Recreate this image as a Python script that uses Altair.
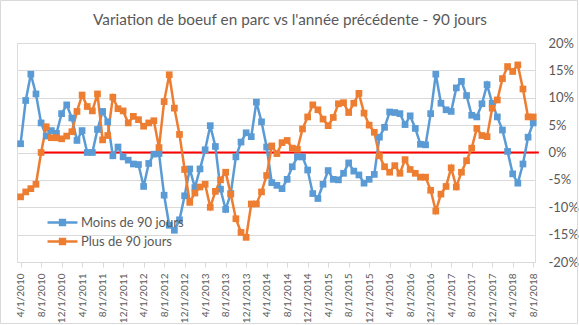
import altair as alt
import pandas as pd

title_text = "Variation de boeuf en parc vs l'année précédente - 90 jours"
series_names = ["Moins de 90 jours", "Plus de 90 jours"]
series_colors = ["#5B9BD5", "#ED7D31"]

# monthly values, 4/1/2010 .. 8/1/2018 (percent)
moins = [1.6, 9.5, 14.3, 10.7, 5.4, 3.0, 4.0, 3.5, 7.1, 8.7, 6.3, 2.2, 4.0, 0.0, 0.0, 4.2,
         7.5, 5.6, -0.6, 1.0, -0.8, -1.4, -2.1, -2.2, -6.2, -2.0, -0.3, -0.2, -7.8, -13.3,
         -14.2, -12.3, -7.9, -3.0, -6.4, -3.0, 0.5, 4.9, 1.1, -6.7, -10.4, -7.5, -0.8, 1.9,
         3.6, 2.9, 9.2, 5.6, 1.0, -5.5, -6.0, -6.6, -4.9, -2.6, -0.8, -0.8, -3.2, -7.5, -8.4,
         -5.8, -3.3, -4.9, -5.0, -3.8, -1.9, -3.4, -4.1, -5.6, -4.9, -4.0, 2.8, 4.6, 7.4, 7.3,
         7.1, 5.1, 6.7, 4.4, 1.5, 1.4, 7.1, 14.3, 9.0, 7.8, 7.5, 11.8, 13.0, 10.4, 6.8, 6.5,
         8.9, 12.4, 9.0, 6.5, 4.1, 0.2, -3.9, -5.6, -2.1, 2.8, 5.4]
plus = [-8.1, -7.2, -6.6, -5.8, 0.0, 4.7, 2.7, 2.7, 2.5, 3.0, 3.8, 7.5, 10.5, 8.4, 7.6, 10.7,
        2.3, 3.1, 10.1, 8.0, 7.6, 5.4, 6.6, 6.0, 4.8, 5.4, 5.8, 0.9, 9.3, 14.2, 8.1, 3.3,
        -3.1, -9.1, -7.4, -6.3, -5.8, -10.0, -7.1, -5.0, -3.6, -7.6, -12.1, -14.6, -15.5,
        -9.4, -9.4, -7.2, -4.2, 1.2, -0.2, 1.8, 2.2, 0.8, 0.6, 4.3, 6.5, 8.7, 7.8, 6.1, 4.9,
        6.4, 8.9, 9.1, 7.3, 9.0, 10.8, 7.2, 5.0, 3.7, -0.6, -2.6, -3.6, -2.4, -3.8, -1.3,
        -3.1, -3.8, -4.5, -4.5, -6.9, -10.7, -7.6, -6.2, -2.8, -6.3, -3.6, -1.5, 0.8, 4.4,
        3.1, 2.9, 8.1, 9.6, 13.5, 15.7, 14.8, 16.0, 11.6, 6.5, 6.5]

tick_labels = ["4/1/2010", "8/1/2010", "12/1/2010", "4/1/2011", "8/1/2011", "12/1/2011",
               "4/1/2012", "8/1/2012", "12/1/2012", "4/1/2013", "8/1/2013", "12/1/2013",
               "4/1/2014", "8/1/2014", "12/1/2014", "4/1/2015", "8/1/2015", "12/1/2015",
               "4/1/2016", "8/1/2016", "12/1/2016", "4/1/2017", "8/1/2017", "12/1/2017",
               "4/1/2018", "8/1/2018"]
y_ticks = [-20, -15, -10, -5, 0, 5, 10, 15, 20]
zero_line = {"x": [3.45], "x2": [101.1], "y": [0]}

rows = []
for i, v in enumerate(moins):
    rows.append({"m": i, "v": v, "s": series_names[0]})
for i, v in enumerate(plus):
    rows.append({"m": i, "v": v, "s": series_names[1]})
df = pd.DataFrame(rows)

tick_vals = [4 * k for k in range(len(tick_labels))]
label_expr = "[" + ",".join("'" + t + "'" for t in tick_labels) + "][round(datum.value/4)]"

xscale = alt.Scale(domain=[-0.7, 100.35], nice=False, zero=False)
yscale = alt.Scale(domain=[-20, 20], nice=False)
cscale = alt.Scale(domain=series_names, range=series_colors)

x_axis = alt.Axis(values=tick_vals, labelExpr=label_expr, labelAngle=-90, grid=False,
                  domainColor="#d9d9d9", tickColor="#d9d9d9", tickSize=5, labelPadding=6,
                  labelFont="Lato", labelFontSize=10, labelColor="#595959", title=None,
                  labelAlign="right", labelBaseline="middle", labelOverlap=False,
                  labelBound=False, labelFlush=False)
y_axis = alt.Axis(orient="right", values=y_ticks, labelExpr="datum.value + '%'",
                  domain=False, ticks=False, gridColor="#d9d9d9", labelPadding=13,
                  labelFont="Lato", labelFontSize=13, labelColor="#595959", title=None,
                  labelAlign="left")

zero_df = pd.DataFrame(zero_line)
rule = alt.Chart(zero_df).mark_rule(color="#FF0000", strokeWidth=2).encode(
    x=alt.X("x:Q", scale=xscale, axis=x_axis),
    x2="x2:Q",
    y=alt.Y("y:Q", scale=yscale, axis=y_axis),
)

legend = alt.Legend(
    orient="none", legendX=34, legendY=168, title=None,
    symbolType="M-1.3,-0.11L1.3,-0.11L1.3,0.11L-1.3,0.11Z M-0.32,-0.32L0.32,-0.32L0.32,0.32L-0.32,0.32Z",
    symbolSize=529, symbolStrokeWidth=0, rowPadding=0, labelOffset=7,
    labelFont="Lato", labelFontSize=13, labelColor="#595959", padding=0,
    symbolOpacity=1,
)

lines = alt.Chart(df).mark_line(strokeWidth=2.5).encode(
    x=alt.X("m:Q", scale=xscale, axis=x_axis),
    y=alt.Y("v:Q", scale=yscale, axis=y_axis),
    color=alt.Color("s:N", scale=cscale, legend=None),
)
points = alt.Chart(df).mark_point(shape="square", size=45, filled=True, opacity=1).encode(
    x=alt.X("m:Q", scale=xscale, axis=x_axis),
    y=alt.Y("v:Q", scale=yscale, axis=y_axis),
    color=alt.Color("s:N", scale=cscale, legend=legend),
)

border = alt.Chart(zero_df).mark_rect(fill=None, stroke="#d9d9d9", strokeWidth=1).encode(
    x=alt.value(-16.5), x2=alt.value(560.5), y=alt.value(-42.5), y2=alt.value(280.5)
)

title_df = pd.DataFrame({"t": [title_text]})
title = alt.Chart(title_df).mark_text(
    font="Lato", fontSize=15.3, color="#595959", align="center", baseline="alphabetic"
).encode(text="t:N", x=alt.value(273), y=alt.value(-18))

chart = alt.layer(border, rule, lines, points, title).resolve_legend(color="independent").properties(
    width=518, height=219,
    padding={"left": 17, "top": 43, "right": 44, "bottom": 63},
    autosize=alt.AutoSizeParams(type="none"),
).configure_view(stroke=None).configure_axisX(labelOverlap=False).configure(background="white")

chart.save("out.html", embed_options={"renderer": "svg", "actions": False})
